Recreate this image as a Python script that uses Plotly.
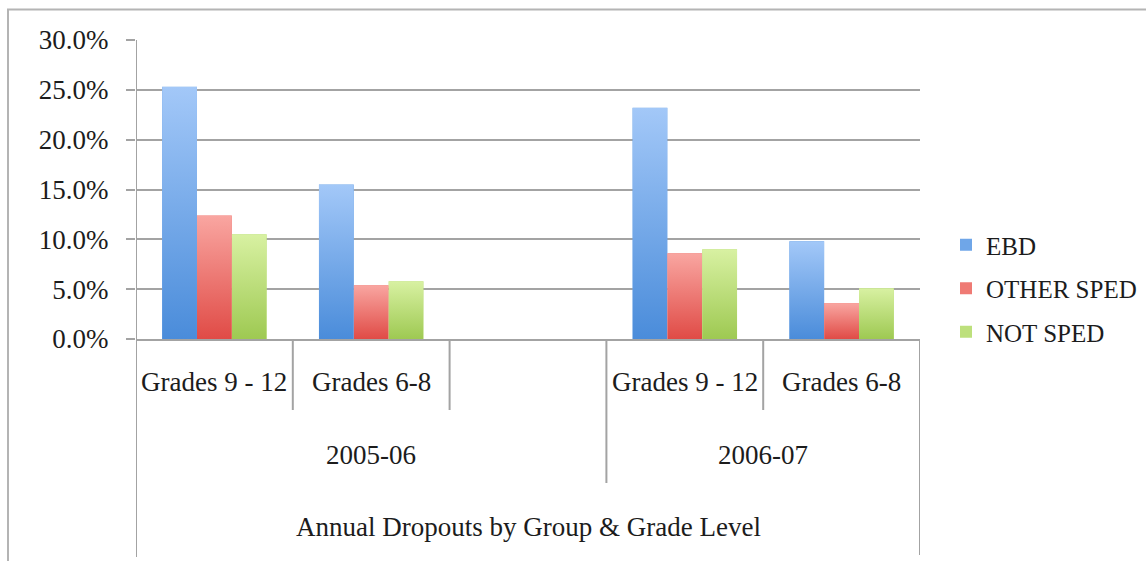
import base64
import plotly.graph_objects as go

# ---- data -------------------------------------------------------------
slot_year = ["2005-06", "2005-06", "2005-06", "2006-07", "2006-07"]
slot_grade = ["Grades 9 - 12", "Grades 6-8", "", "Grades 9 - 12", "Grades 6-8"]

series_names = ["EBD", "OTHER SPED", "NOT SPED"]
ebd = [25.3, 15.5, None, 23.2, 9.8]
other_sped = [12.4, 5.4, None, 8.6, 3.6]
not_sped = [10.5, 5.8, None, 9.0, 5.1]

axis_title = "Annual Dropouts by Group & Grade Level"
y_ticks = [0, 5, 10, 15, 20, 25, 30]
y_tick_text = ["0.0%", "5.0%", "10.0%", "15.0%", "20.0%", "25.0%", "30.0%"]

# ---- styling ----------------------------------------------------------
W, H = 1146, 561
L, R, T, B = 136, 226, 40, 222
PLOT_W, PLOT_H = W - L - R, H - T - B
FONT = "Liberation Serif"
TEXT = "#1c1c1c"
LINE = "#a3a3a3"

# top / bottom colours of the vertical fill gradient, plus a flat colour for the legend
palette = [
    ("#a3c8f8", "#4a8cda", "#6fa6e8"),
    ("#f9a6a1", "#e04b46", "#ef7a74"),
    ("#d8f1a2", "#9ec952", "#bde07c"),
]

keys = [f"{y} {g}" for y, g in zip(slot_year, slot_grade)]
n = len(keys)


def py(pix):
    """pixel row -> paper y"""
    return (H - B - pix) / PLOT_H


def px(pix):
    """pixel column -> paper x"""
    return (pix - L) / PLOT_W


def gradient_uri(top, bottom):
    svg = (
        '<svg xmlns="http://www.w3.org/2000/svg" width="10" height="100" '
        'viewBox="0 0 10 100" preserveAspectRatio="none">'
        '<defs><linearGradient id="g" x1="0" y1="0" x2="0" y2="1">'
        f'<stop offset="0" stop-color="{top}"/><stop offset="1" stop-color="{bottom}"/>'
        '</linearGradient></defs><rect width="10" height="100" fill="url(#g)"/></svg>'
    )
    return "data:image/svg+xml;base64," + base64.b64encode(svg.encode()).decode()


fig = go.Figure()
all_series = [ebd, other_sped, not_sped]
BARGAP = 1 / 3
bar_w = (1 - BARGAP) / len(all_series)

images = []
for s, (name, vals) in enumerate(zip(series_names, all_series)):
    top, bottom, flat = palette[s]
    fig.add_trace(go.Bar(
        x=keys, y=vals, name=name, legendgroup=name,
        marker=dict(color=flat, line=dict(width=0)),
        hovertemplate="%{y:.1f}%<extra>" + name + "</extra>",
    ))
    uri = gradient_uri(top, bottom)
    for j, v in enumerate(vals):
        if v is None:
            continue
        images.append(dict(
            source=uri, xref="x", yref="y",
            x=j - (1 - BARGAP) / 2 + s * bar_w, y=v,
            sizex=bar_w, sizey=v, sizing="stretch",
            xanchor="left", yanchor="top", layer="above",
        ))

# ---- category axis: labels and divider lines ---------------------------
annotations = []
for k, g in zip(keys, slot_grade):
    if g:
        annotations.append(dict(
            x=k, y=py(382), xref="x", yref="paper", text=g, showarrow=False,
            font=dict(family=FONT, size=27, color=TEXT), yanchor="middle",
        ))

years = list(dict.fromkeys(slot_year))
for yr in years:
    idx = [i for i, v in enumerate(slot_year) if v == yr]
    annotations.append(dict(
        x=(idx[0] + idx[-1]) / 2, y=py(455), xref="x", yref="paper", text=yr,
        showarrow=False, font=dict(family=FONT, size=27, color=TEXT), yanchor="middle",
    ))

annotations.append(dict(
    x=(n - 1) / 2, y=py(527), xref="x", yref="paper", text=axis_title,
    showarrow=False, font=dict(family=FONT, size=27, color=TEXT), yanchor="middle",
))

shapes = []
line_style = dict(color=LINE, width=2)
# outer frame
shapes.append(dict(type="rect", xref="paper", yref="paper",
                   x0=px(8), x1=px(W + 10), y0=py(H + 10), y1=py(9.5),
                   line=dict(color="#b4b4b4", width=2), layer="below"))
# left edge of the category axis, running down through all levels
shapes.append(dict(type="line", xref="x", yref="paper", x0=-0.5, x1=-0.5,
                   y0=py(557), y1=1, line=line_style))
# right edge
shapes.append(dict(type="line", xref="x", yref="paper", x0=n - 0.5, x1=n - 0.5,
                   y0=py(555), y1=0, line=line_style))
for i in range(n - 1):
    same = slot_year[i] == slot_year[i + 1]
    shapes.append(dict(type="line", xref="x", yref="paper", x0=i + 0.5, x1=i + 0.5,
                       y0=py(410 if same else 483), y1=0, line=line_style))

fig.update_layout(
    width=W, height=H,
    margin=dict(l=L, r=R, t=T, b=B, pad=0, autoexpand=False),
    paper_bgcolor="white", plot_bgcolor="white",
    barmode="group", bargap=BARGAP, bargroupgap=0,
    font=dict(family=FONT, color=TEXT),
    showlegend=True,
    legend=dict(
        x=px(946), y=py(222), xanchor="left", yanchor="top",
        font=dict(family=FONT, size=25, color=TEXT),
        tracegroupgap=8, bgcolor="rgba(0,0,0,0)",
    ),
    xaxis=dict(
        type="category", categoryorder="array", categoryarray=keys,
        range=[-0.5, n - 0.5], showticklabels=False, showgrid=False,
        zeroline=False, showline=True, linecolor=LINE, linewidth=2, ticks="",
    ),
    yaxis=dict(
        range=[0, 30], tickvals=y_ticks, ticktext=y_tick_text,
        showgrid=True, gridcolor=LINE, gridwidth=2, zeroline=False,
        ticks="outside", ticklen=9, tickcolor=LINE, tickwidth=2,
        showline=False, ticklabelstandoff=12,
        tickfont=dict(family=FONT, size=27, color=TEXT),
    ),
    annotations=annotations, shapes=shapes, images=images,
)

fig.write_html("out.html")
